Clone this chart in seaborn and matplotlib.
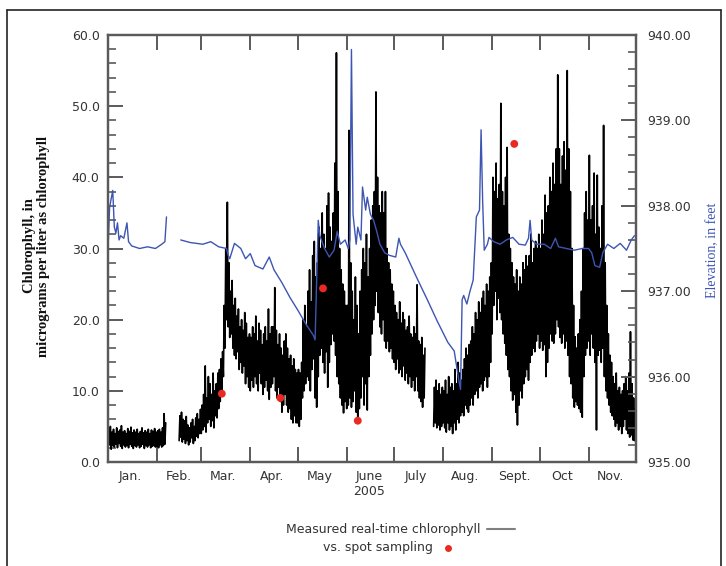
import numpy as np
import pandas as pd
import seaborn as sns
import matplotlib.pyplot as plt
import matplotlib.dates as mdates
from matplotlib.ticker import MultipleLocator, FormatStrFormatter, NullFormatter
from matplotlib.lines import Line2D

nan = np.nan

# real-time chlorophyll, daily high / low (ug/L), Jan 1 - Nov 30 2005, nan = no record
chl_hi = [
    # Jan
    4.5, 5.0, 4.2, 4.6, 4.0, 4.8, 4.3, 4.5, 5.1, 4.2, 4.4, 4.0, 4.7, 4.3, 4.9, 4.1,
    4.5, 4.2, 4.6, 4.0, 4.3, 4.8, 4.1, 4.4, 4.2, 4.6, 4.0, 4.5, 4.3, 4.7, 4.2,
    # Feb
    4.4, 4.6, 4.2, 4.8, 6.8, 5.5, nan, nan, nan, nan, nan, nan, nan, nan,
    6.5, 7.0, 6.0, 5.8, 6.4, 5.2, 4.8, 5.5, 6.0, 5.0, 6.2, 6.8, 6.0, 7.4,
    # Mar
    8.0, 9.5, 13.5, 9.0, 12.0, 11.0, 9.5, 12.5, 10.0, 11.0, 12.5, 13.0, 14.5, 15.5, 22.0, 30.0,
    36.5, 28.0, 24.0, 25.5, 22.0, 23.0, 20.5, 21.5, 19.0, 20.0, 18.5, 21.0, 19.5, 17.5, 18.0,
    # Apr
    17.5, 19.0, 18.0, 20.5, 17.0, 19.5, 18.5, 16.5, 18.0, 19.0, 17.0, 21.5, 18.0, 19.0, 19.0,
    24.5, 18.5, 16.5, 18.0, 16.0, 15.0, 17.0, 18.0, 16.0, 14.5, 15.0, 13.5, 14.5, 13.0, 12.5,
    # May
    13.0, 12.5, 14.0, 20.0, 22.0, 19.0, 24.0, 27.0, 22.5, 29.0, 31.0, 26.0, 28.0, 33.0, 30.0, 35.0,
    32.0, 30.0, 36.0, 37.8, 33.0, 31.0, 35.0, 42.0, 57.5, 38.0, 30.0, 27.0, 25.0, 24.0, 22.0,
    # June
    22.0, 46.6, 28.0, 24.0, 20.0, 26.0, 22.0, 18.0, 24.0, 27.0, 30.0, 28.0, 32.0, 26.0, 30.0,
    34.0, 36.0, 38.0, 52.0, 40.0, 36.0, 35.0, 38.0, 35.0, 38.0, 30.0, 28.0, 27.0, 25.0, 24.0,
    # July
    22.0, 21.0, 20.0, 22.5, 19.5, 21.0, 20.0, 18.5, 19.0, 20.5, 18.0, 17.5, 19.0, 18.0, 24.9, 17.0,
    16.5, 17.5, 15.0, 16.0, nan, nan, nan, nan, nan, 10.5, 11.5, 10.0, 11.0, 9.5, 10.5,
    # Aug
    10.0, 11.5, 9.5, 12.0, 10.5, 11.0, 10.0, 13.0, 11.0, 14.0, 12.5, 11.5, 13.0, 14.5, 16.0, 15.0,
    16.5, 17.0, 19.0, 18.0, 21.0, 20.0, 22.5, 21.0, 23.0, 24.0, 22.0, 25.0, 24.0, 26.0, 28.0,
    # Sept
    40.0, 38.0, 42.0, 37.0, 39.0, 50.4, 38.0, 36.0, 40.0, 44.2, 32.0, 30.0, 28.0, 26.0, 25.0,
    27.0, 24.0, 26.0, 25.0, 28.0, 27.0, 29.0, 27.5, 29.0, 32.0, 28.0, 30.0, 31.0, 30.0, 32.0,
    # Oct
    30.0, 34.0, 32.0, 37.5, 35.0, 36.0, 40.0, 38.0, 42.0, 39.0, 44.0, 54.4, 44.0, 39.0, 43.0, 45.0,
    41.0, 55.0, 44.0, 38.0, 30.0, 22.0, 17.6, 16.0, 18.0, 20.0, 24.0, 30.0, 35.0, 38.0, 34.0,
    # Nov
    43.1, 34.0, 36.0, 40.6, 32.0, 40.3, 33.0, 30.0, 36.0, 47.3, 28.0, 22.0, 18.0, 15.0, 14.0,
    12.0, 11.0, 12.5, 10.0, 10.5, 9.5, 10.0, 11.0, 12.0, 10.0, 12.5, 18.3, 11.0, 9.0, 7.5,
]
chl_lo = [
    # Jan
    2.0, 2.4, 1.8, 2.3, 2.1, 2.5, 2.0, 2.6, 2.2, 1.9, 2.4, 2.1, 2.3, 2.0, 2.5, 2.2,
    1.9, 2.3, 2.1, 2.4, 2.0, 2.2, 2.5, 1.9, 2.3, 2.1, 2.4, 2.0, 2.2, 2.3, 2.1,
    # Feb
    2.2, 2.0, 2.4, 2.1, 2.3, 2.5, nan, nan, nan, nan, nan, nan, nan, nan,
    3.0, 3.5, 2.8, 3.2, 2.6, 3.0, 2.4, 2.8, 3.4, 2.6, 3.0, 3.6, 3.4, 4.0,
    # Mar
    4.0, 4.5, 5.0, 4.2, 5.5, 6.0, 5.0, 5.8, 4.8, 6.5, 6.2, 7.5, 8.5, 9.5, 12.0, 16.0,
    20.0, 19.0, 17.5, 18.0, 16.0, 15.0, 14.5, 15.5, 13.0, 14.0, 12.5, 13.5, 11.0, 12.0, 10.5,
    # Apr
    10.0, 11.5, 10.5, 12.0, 11.0, 10.0, 12.5, 11.0, 9.5, 10.5, 11.5, 10.0, 8.8, 10.5, 11.0,
    12.0, 10.0, 9.0, 10.5, 8.5, 7.0, 8.0, 9.5, 8.0, 7.0, 7.5, 6.0, 5.5, 6.5, 5.5,
    # May
    5.5, 5.0, 6.0, 9.0, 10.0, 11.0, 12.0, 11.5, 10.0, 13.0, 14.5, 9.0, 7.7, 12.0, 15.0, 16.0,
    14.0, 12.5, 15.5, 10.5, 14.0, 16.5, 18.0, 17.0, 15.0, 12.0, 11.0, 9.0, 8.0, 6.9, 8.5,
    # June
    7.5, 8.0, 9.0, 7.7, 8.5, 10.0, 7.0, 6.0, 7.5, 9.0, 12.0, 8.0, 11.0, 7.3, 12.0,
    15.0, 18.0, 20.0, 22.0, 24.0, 21.0, 19.0, 18.0, 20.0, 17.0, 16.0, 17.0, 15.5, 16.0, 14.5,
    # July
    14.0, 13.0, 14.5, 12.5, 13.0, 12.0, 13.5, 11.5, 12.5, 11.0, 12.0, 10.5, 11.5, 10.0, 12.0, 10.0,
    9.0, 8.5, 7.7, 9.0, nan, nan, nan, nan, nan, 5.0, 5.5, 4.8, 5.2, 4.5, 5.0,
    # Aug
    5.5, 4.8, 4.2, 5.5, 4.5, 5.0, 4.0, 5.5, 4.5, 6.0, 5.5, 6.5, 7.0, 6.5, 8.0, 7.5,
    7.0, 8.0, 9.0, 8.0, 9.5, 10.0, 9.0, 10.5, 11.0, 10.0, 11.5, 12.0, 10.5, 12.0, 14.0,
    # Sept
    18.0, 22.0, 24.0, 20.0, 23.0, 21.0, 20.0, 18.0, 16.7, 15.0, 13.0, 12.0, 10.0, 8.7, 9.5,
    7.0, 5.2, 8.0, 10.0, 9.0, 11.0, 12.0, 13.0, 11.5, 14.0, 15.0, 16.0, 15.5, 17.0, 18.0,
    # Oct
    16.0, 17.0, 15.7, 16.5, 12.0, 14.0, 16.0, 18.0, 17.0, 16.7, 18.0, 20.0, 19.0, 17.5, 16.7, 18.0,
    16.0, 17.0, 15.0, 12.0, 11.0, 9.0, 7.7, 8.5, 8.0, 7.5, 7.0, 6.3, 12.0, 15.0, 16.0,
    # Nov
    17.0, 15.0, 18.0, 16.0, 14.0, 4.5, 15.0, 15.7, 14.0, 16.0, 12.0, 10.0, 9.0, 8.0, 7.0,
    6.5, 6.0, 5.0, 5.5, 4.5, 5.0, 4.0, 5.0, 6.0, 4.5, 4.0, 3.5, 3.8, 3.1, 3.0,
]

# reservoir elevation (ft), day of year (0 = Jan 1), nan = no record
elev_day = [0, 1, 3, 4, 5, 6, 7, 8, 10, 12, 13, 15, 20, 25, 30, 34, 36, 37,
            41,
            46, 52, 60, 65, 70, 75, 76, 77, 80, 84, 87, 90, 93, 98, 102, 105, 110, 115, 120,
            125, 130, 131,
            133, 134, 137, 140, 143, 145, 147, 150, 152, 153, 154, 155, 157, 158, 160, 161,
            163, 164, 166, 168, 170, 172, 175, 178, 182, 184, 185, 188, 195, 202, 208, 215,
            219, 222, 223,
            224, 225, 227, 229, 231, 233, 235, 236, 237, 238, 240, 241, 244, 248, 252, 256,
            260, 264, 266, 267, 268, 271, 276, 280, 283, 285, 290, 295, 300, 304, 306, 308,
            311, 313, 316, 320, 324, 328, 331, 333]
elev_ft = [937.48, 937.98, 938.18, 937.75, 937.68, 937.80, 937.60, 937.65, 937.62, 937.80,
           937.58, 937.53, 937.50, 937.52, 937.50, 937.55, 937.58, 937.87,
           nan,
           937.60, 937.57, 937.55, 937.58, 937.52, 937.50, 937.42, 937.38, 937.56, 937.50,
           937.38, 937.44, 937.30, 937.26, 937.40, 937.25, 937.10, 936.93, 936.78, 936.62,
           936.48, 936.43,
           937.83, 937.65, 937.50, 937.40, 937.48, 937.70, 937.55, 937.60, 937.50, 937.60,
           939.83, 937.90, 937.55, 937.75, 937.60, 938.22, 937.95, 938.10, 937.90, 937.83,
           937.70, 937.55, 937.45, 937.42, 937.40, 937.62, 937.55, 937.45, 937.17, 936.90,
           936.66, 936.40, 936.30, 935.95, 935.85,
           936.90, 936.95, 936.85, 937.00, 937.13, 937.87, 937.95, 938.89, 938.05, 937.48,
           937.55, 937.63, 937.58, 937.55, 937.60, 937.63, 937.55, 937.54, 937.62, 937.83,
           937.60, 937.55, 937.55, 937.50, 937.62, 937.52, 937.50, 937.48, 937.50, 937.50,
           937.45, 937.30, 937.28, 937.45, 937.55, 937.50, 937.56, 937.48, 937.60, 937.65]

# spot samples
spot_dates = ['2005-03-14', '2005-04-20', '2005-05-17', '2005-06-08', '2005-09-15']
spot_chl = [9.6, 9.0, 24.4, 5.8, 44.7]

month_labels = ['Jan.', 'Feb.', 'Mar.', 'Apr.', 'May', 'June\n2005', 'July',
                'Aug.', 'Sept.', 'Oct', 'Nov.']

start = pd.Timestamp('2005-01-01')


def with_segments(t, v):
    df = pd.DataFrame({'t': t, 'v': v})
    df['seg'] = df['v'].isna().cumsum()
    return df.dropna()


days = np.arange(len(chl_hi))
chl_t = start + pd.to_timedelta(np.ravel(np.column_stack([days, days + 0.5])), unit='D')
chl_v = np.ravel(np.column_stack([chl_lo, chl_hi]))
chl = with_segments(chl_t, chl_v)
elev = with_segments(start + pd.to_timedelta(elev_day, unit='D'), elev_ft)
spots = pd.DataFrame({'t': pd.to_datetime(spot_dates), 'v': spot_chl})

sns.set_style('ticks')
plt.rcParams['font.family'] = ['DejaVu Sans']

spine_c = '#5a5a5a'
text_c = '#333333'
blue = '#3d55b3'

fig = plt.figure(figsize=(7.26, 5.66), dpi=100)
ax = fig.add_axes([108 / 726, 1 - 462 / 566, 528 / 726, 427 / 566])
ax2 = ax.twinx()

sns.lineplot(data=chl, x='t', y='v', units='seg', estimator=None, sort=False,
             color='black', lw=1.2, ax=ax)
sns.scatterplot(data=spots, x='t', y='v', color='#e82a22', s=32, edgecolor='none',
                ax=ax, zorder=5)
sns.lineplot(data=elev, x='t', y='v', units='seg', estimator=None, sort=False,
             color=blue, lw=1.0, ax=ax2)

ax.set_xlim(start, pd.Timestamp('2005-12-01'))
ax.set_ylim(0, 60)
ax2.set_ylim(935, 940)
ax.set_xlabel('')
ax.set_ylabel('')
ax2.set_ylabel('')

ax.xaxis.set_major_locator(mdates.MonthLocator())
ax.xaxis.set_major_formatter(NullFormatter())
mids = [mdates.date2num(pd.Timestamp(2005, m, 15)) for m in range(1, 12)]
ax.set_xticks(mids, minor=True)
ax.set_xticklabels(month_labels, minor=True)

ax.yaxis.set_major_locator(MultipleLocator(10))
ax.yaxis.set_minor_locator(MultipleLocator(2))
ax.yaxis.set_major_formatter(FormatStrFormatter('%.1f'))
ax2.yaxis.set_major_locator(MultipleLocator(1))
ax2.yaxis.set_minor_locator(MultipleLocator(0.2))
ax2.yaxis.set_major_formatter(FormatStrFormatter('%.2f'))

ax.tick_params(axis='x', which='major', direction='in', length=11, width=1.4,
               top=True, bottom=True, color=spine_c)
ax.tick_params(axis='x', which='minor', length=0, pad=6, labelsize=9,
               labelcolor=text_c)
ax.tick_params(axis='y', which='major', direction='in', length=11, width=1.4,
               color=spine_c, labelsize=9, labelcolor=text_c, pad=6)
ax.tick_params(axis='y', which='minor', direction='in', length=6, width=1.2,
               color=spine_c)
ax2.tick_params(axis='y', which='major', direction='in', length=11, width=1.4,
                color=spine_c, labelsize=9, labelcolor=text_c, pad=8)
ax2.tick_params(axis='y', which='minor', direction='in', length=6, width=1.2,
                color=spine_c)

for a in (ax, ax2):
    for s in a.spines.values():
        s.set_visible(True)
        s.set_color(spine_c)
        s.set_linewidth(1.6)

fig.text(37 / 726, 1 - 246 / 566,
         'Chlorophyll, in\nmicrograms per liter as chlorophyll',
         rotation=90, ha='center', va='center', multialignment='center',
         family='Liberation Serif', fontweight='bold', fontsize=10.5,
         linespacing=1.1, color='#111111')
fig.text(713 / 726, 1 - 250 / 566, 'Elevation, in feet', rotation=90,
         ha='center', va='center', family='Liberation Serif', fontsize=10,
         color=blue)

# legend below the plot
fig.text(480 / 726, 1 - 529 / 566, 'Measured real-time chlorophyll', ha='right',
         va='center', fontsize=9, color=text_c)
fig.add_artist(Line2D([487 / 726, 515 / 726], [1 - 529 / 566] * 2,
                      transform=fig.transFigure, color='#808080', lw=1.5))
fig.text(433 / 726, 1 - 547 / 566, 'vs. spot sampling', ha='right', va='center',
         fontsize=9, color=text_c)
fig.add_artist(Line2D([448 / 726], [1 - 548 / 566], transform=fig.transFigure,
                      marker='o', ms=5, color='#e82a22', mec='none', lw=0))

# page frame
frame = dict(transform=fig.transFigure, color='#222222', lw=1.2)
fig.add_artist(Line2D([7 / 726, 721 / 726], [1 - 10 / 566] * 2, **frame))
fig.add_artist(Line2D([7 / 726] * 2, [0, 1 - 10 / 566], **frame))
fig.add_artist(Line2D([721 / 726] * 2, [0, 1 - 10 / 566], **frame))

fig.savefig('out.png', dpi=100)
